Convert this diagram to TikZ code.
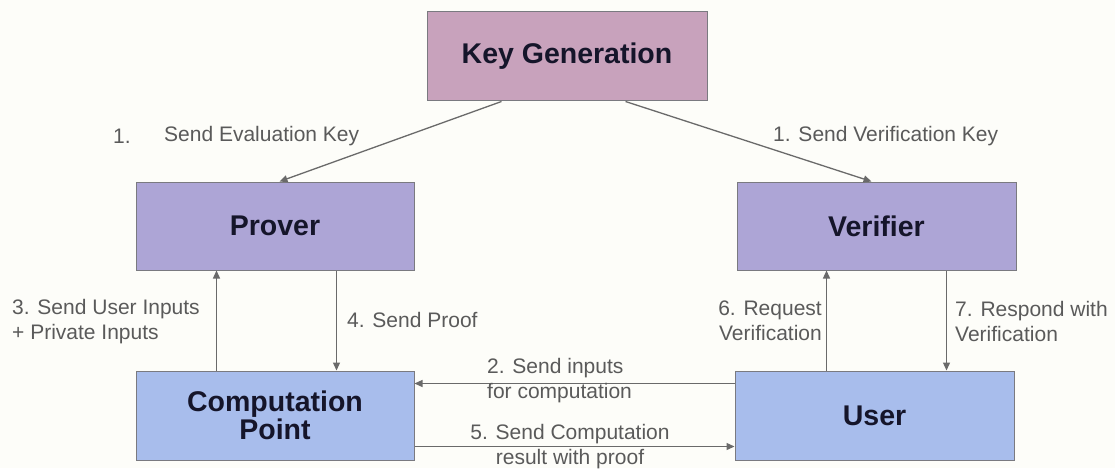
\documentclass[tikz,border=0pt]{standalone}
\usepackage{fontspec}
\setmainfont{Liberation Sans}
\usetikzlibrary{arrows.meta}
\definecolor{bgc}{HTML}{FDFDF9}
\definecolor{kgfill}{HTML}{C8A2BC}
\definecolor{pvfill}{HTML}{ADA5D6}
\definecolor{cufill}{HTML}{A8BDEC}
\definecolor{boxline}{HTML}{7A7A80}
\definecolor{arrc}{HTML}{6A6A6A}
\definecolor{labc}{HTML}{5A5A5A}
\definecolor{titc}{HTML}{15152A}
\newcommand{\labsize}{\fontsize{21}{25}\selectfont}
\newcommand{\titsize}{\fontsize{28.5}{31}\selectfont\bfseries}
\tikzset{
  box/.style={draw=boxline, line width=1pt, inner sep=0pt, text=titc, font=\titsize, align=center},
  arr/.style={draw=arrc, line width=1.3pt, -{Triangle[length=8pt,width=7pt]}},
  lab/.style={text=labc, font=\labsize, inner sep=0pt}
}
\begin{document}
\begin{tikzpicture}[x=1pt,y=-1pt]
\fill[bgc] (0,0) rectangle (1115,468);
\useasboundingbox (0,0) rectangle (1115,468);

\node[box, fill=kgfill, minimum width=280pt, minimum height=89pt] (kg) at (567,56.5) {Key Generation};
\node[box, fill=pvfill, minimum width=278pt, minimum height=88pt] (prover) at (275,226) {Prover};
\node[box, fill=pvfill, minimum width=279pt, minimum height=88pt] (verifier) at (876.5,226) {Verifier};
\node[box, fill=cufill, minimum width=278pt, minimum height=89pt] (cp) at (275,415.5) {Computation\\[-3pt]Point};
\node[box, fill=cufill, minimum width=279pt, minimum height=89pt] (user) at (874.5,415.5) {User};

% key distribution
\draw[arr] ([xshift=75pt]kg.south west) -- ([xshift=144pt]prover.north west);
\draw[arr] ([xshift=-82pt]kg.south east) -- ([xshift=135pt]verifier.north west);

% prover <-> computation point
\draw[arr] ([xshift=81pt]cp.north west) -- ([xshift=81pt]cp.north west |- prover.south);
\draw[arr] ([xshift=201pt]prover.south west) -- ([xshift=201pt]prover.south west |- cp.north);

% user <-> computation point
\draw[arr] ([yshift=-13pt]user.north west) -- ([yshift=-13pt]user.north west -| cp.east);
\draw[arr] ([yshift=14pt]cp.south east) -- ([yshift=14pt]cp.south east -| user.west);

% user <-> verifier
\draw[arr] ([xshift=92pt]user.north west) -- ([xshift=92pt]user.north west |- verifier.south);
\draw[arr] ([xshift=212pt]user.north west |- verifier.south) -- ([xshift=212pt]user.north west);

% labels
\node[lab] (l1a) at (122,136) {1.};
\node[lab, anchor=west] (l1b) at (164,136) {Send Evaluation Key};
\node[lab, anchor=west] (l1c) at (773,136) {1. Send Verification Key};
\node[lab, anchor=west, align=left] (l3) at (12,322) {3. Send User Inputs\\+ Private Inputs};
\node[lab, anchor=west] (l4) at (347,320) {4. Send Proof};
\node[lab, anchor=west, align=left] (l2) at (487,381) {2. Send inputs\\for computation};
\node[lab, align=center] (l5) at (570,446.5) {5. Send Computation\\result with proof};
\node[lab, anchor=east, align=right] (l6) at (822,321) {6. Request\\Verification};
\node[lab, anchor=west, align=left] (l7) at (955,321) {7. Respond with\\Verification};
\end{tikzpicture}
\end{document}
